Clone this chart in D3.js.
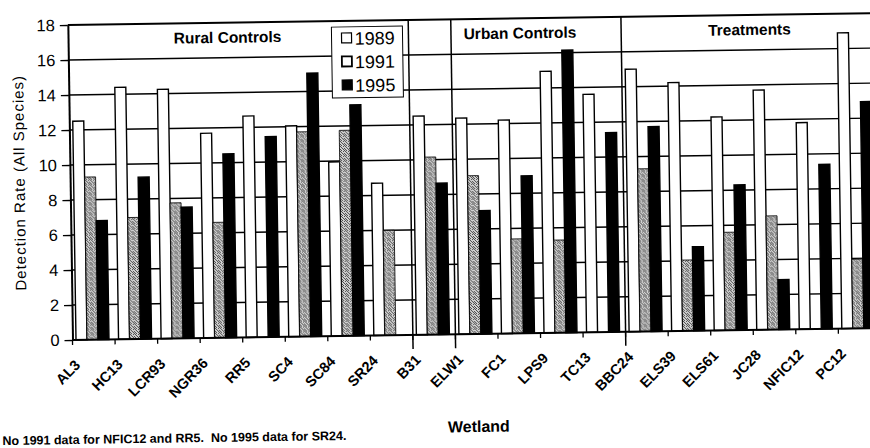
<!DOCTYPE html>
<html>
<head>
<meta charset="utf-8">
<script src="https://cdn.jsdelivr.net/npm/d3@7"></script>
<style>
  body { margin: 0; background: #fff; }
  svg { display: block; font-family: 'Liberation Sans', Arial, sans-serif; }
</style>
</head>
<body>
<div id="chart"></div>
<script>
// wetlands in plot order
const wetlands = ['AL3', 'HC13', 'LCR93', 'NGR36', 'RR5', 'SC4', 'SC84', 'SR24', 'B31',
  'ELW1', 'FC1', 'LPS9', 'TC13', 'BBC24', 'ELS39', 'ELS61', 'JC28', 'NFIC12', 'PC12']
const years = ['1989', '1991', '1995']

// detection rate (all species), null = no data
const rate1989 = [12.5, 14.4, 14.25, 11.7, 12.65, 12.05, 9.95, 8.7, 12.5,
  12.35, 12.2, 14.95, 13.6, 15.0, 14.2, 12.2, 13.7, 11.8, 16.9]
const rate1991 = [9.3, 6.95, 7.75, 6.6, null, 11.7, 11.75, 6.0, 10.15,
  9.05, 5.4, 5.3, null, 9.3, 4.05, 5.6, 6.5, null, 3.95]
const rate1995 = [6.8, 9.25, 7.5, 10.5, 11.45, 15.05, 13.2, null, 8.65,
  7.05, 9.0, 16.15, 11.4, 11.7, 4.8, 8.3, 2.85, 9.4, 12.95]

const yTicks = [0, 2, 4, 6, 8, 10, 12, 14, 16, 18]
const groupNames = ['Rural Controls', 'Urban Controls', 'Treatments']
// box dividers sit before these wetlands
const dividers = ['B31', 'ELW1', 'BBC24']

const width = 870
const height = 448

const svg = d3.select('#chart').append('svg')
  .attr('width', width)
  .attr('height', height)

// stippled grey fill for 1991 (irregular dots so it does not read as hatching)
const pat = svg.append('defs').append('pattern')
  .attr('id', 'stipple')
  .attr('patternUnits', 'userSpaceOnUse')
  .attr('width', 5)
  .attr('height', 5)
pat.append('rect').attr('width', 5).attr('height', 5).attr('fill', '#d4d4d4')
;[[0, 0], [3, 0], [1, 1], [4, 2], [2, 2], [0, 3], [3, 3], [1, 4], [4, 4]].forEach(function (p) {
  pat.append('rect').attr('x', p[0]).attr('y', p[1]).attr('width', 1).attr('height', 1).attr('fill', '#444')
})

// the scanned page is slightly tilted
const g = svg.append('g').attr('transform', 'rotate(-0.85, 72.5, 340)')

const x0 = d3.scaleBand().domain(wetlands).range([72.5, 72.5 + 42.55 * wetlands.length])
const x1 = d3.scaleBand().domain(years).range([3.5, 36.5])
const y = d3.scaleLinear().domain([0, 18]).range([340, 25])
const right = x0.range()[1]

// horizontal grid
g.selectAll('line.grid')
  .data(yTicks.slice(1))
  .enter().append('line')
  .attr('class', 'grid')
  .attr('x1', 72.5)
  .attr('x2', right)
  .attr('y1', d => y(d))
  .attr('y2', d => y(d))
  .attr('stroke', '#000')
  .attr('stroke-width', d => d === 18 ? 2 : 1.4)

// group dividers
g.selectAll('line.sep')
  .data(dividers)
  .enter().append('line')
  .attr('class', 'sep')
  .attr('x1', d => x0(d))
  .attr('x2', d => x0(d))
  .attr('y1', y(18))
  .attr('y2', y(0) + 14)
  .attr('stroke', '#000')
  .attr('stroke-width', 1.5)

// bars
const rows = wetlands.map(function (w, i) {
  return { wetland: w, vals: [rate1989[i], rate1991[i], rate1995[i]] }
})
const fills = ['#fff', 'url(#stipple)', '#000']

const groups = g.selectAll('g.wet')
  .data(rows)
  .enter().append('g')
  .attr('class', 'wet')
  .attr('transform', d => 'translate(' + x0(d.wetland) + ',0)')

groups.selectAll('rect')
  .data(d => d.vals.map((v, k) => ({ year: years[k], k: k, v: v })).filter(e => e.v !== null))
  .enter().append('rect')
  .attr('x', d => x1(d.year))
  .attr('width', x1.bandwidth())
  .attr('y', d => y(d.v))
  .attr('height', d => y(0) - y(d.v))
  .attr('fill', d => fills[d.k])
  .attr('stroke', '#000')
  .attr('stroke-width', d => d.k === 1 ? 0.8 : 1.4)

// x axis line and boundary ticks
g.append('line')
  .attr('x1', 72.5).attr('x2', right)
  .attr('y1', y(0)).attr('y2', y(0))
  .attr('stroke', '#000').attr('stroke-width', 2)

g.selectAll('line.xtick')
  .data(wetlands.concat(['end']))
  .enter().append('line')
  .attr('class', 'xtick')
  .attr('x1', d => d === 'end' ? right : x0(d))
  .attr('x2', d => d === 'end' ? right : x0(d))
  .attr('y1', y(0))
  .attr('y2', y(0) + 5)
  .attr('stroke', '#000')
  .attr('stroke-width', 1.3)

g.selectAll('text.xlab')
  .data(wetlands)
  .enter().append('text')
  .attr('class', 'xlab')
  .attr('transform', d => 'translate(' + (x0(d) + x0.bandwidth() / 2 - 13) + ',366) rotate(-45)')
  .attr('text-anchor', 'end')
  .attr('font-size', '14.5px')
  .attr('font-weight', 'bold')
  .text(d => d)

// y axis
const yAxis = g.append('g')
  .attr('transform', 'translate(72.5,0)')
  .call(d3.axisLeft(y).tickValues(yTicks).tickSize(8).tickSizeOuter(0).tickPadding(5))
yAxis.select('.domain').attr('stroke', '#000').attr('stroke-width', 2)
yAxis.selectAll('.tick line').attr('stroke', '#000').attr('stroke-width', 1.4)
yAxis.selectAll('.tick text')
  .attr('font-size', '16.5px')
  .attr('font-family', "'Liberation Sans', Arial, sans-serif")
  .attr('fill', '#000')

g.append('text')
  .attr('transform', 'translate(27,182) rotate(-90)')
  .attr('text-anchor', 'middle')
  .attr('font-size', '15px')
  .attr('letter-spacing', '1px')
  .text('Detection Rate (All Species)')

// group titles
const groupX = [232, 524.5, 754]
g.selectAll('text.grp')
  .data(groupNames)
  .enter().append('text')
  .attr('class', 'grp')
  .attr('x', (d, i) => groupX[i])
  .attr('y', y(16.85))
  .attr('text-anchor', 'middle')
  .attr('font-size', '15.5px')
  .attr('font-weight', 'bold')
  .text(d => d)

// legend
const legend = g.append('g').attr('transform', 'translate(336,31)')
legend.append('rect')
  .attr('width', 71).attr('height', 71)
  .attr('fill', '#fff').attr('stroke', '#000').attr('stroke-width', 1)
const legendFills = ['#fff', '#fff', '#000']
years.forEach(function (yr, i) {
  legend.append('rect')
    .attr('x', 10).attr('y', 6 + i * 23.5)
    .attr('width', 10).attr('height', 10)
    .attr('fill', legendFills[i])
    .attr('stroke', '#000')
    .attr('stroke-width', i === 1 ? 1.8 : 1.2)
  legend.append('text')
    .attr('x', 23).attr('y', 18 + i * 23.5)
    .attr('font-size', '18px')
    .text(yr)
})

g.append('text')
  .attr('x', 477.5).attr('y', 438)
  .attr('text-anchor', 'middle')
  .attr('font-size', '16px')
  .attr('font-weight', 'bold')
  .text('Wetland')

g.append('text')
  .attr('x', 1).attr('y', 444)
  .attr('font-size', '12.5px')
  .attr('font-weight', 'bold')
  .attr('xml:space', 'preserve')
  .style('white-space', 'pre')
  .text('No 1991 data for NFIC12 and RR5.  No 1995 data for SR24.')
</script>
</body>
</html>
